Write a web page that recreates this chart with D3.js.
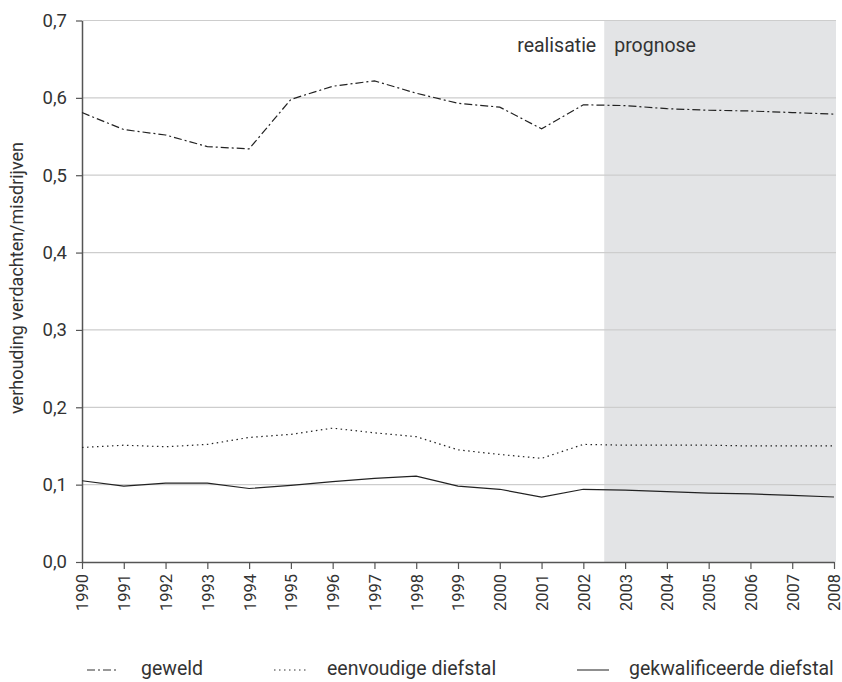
<!DOCTYPE html>
<html><head><meta charset="utf-8">
<script src="https://cdn.jsdelivr.net/npm/d3@7"></script>
<style>body{margin:0;background:#fff;} text{font-family:Roboto,"Liberation Sans",sans-serif;fill:#333;}</style>
</head><body>
<svg id="c" width="842" height="682"></svg>
<script>
const years = d3.range(1990, 2009);
const geweld = [0.581,0.559,0.552,0.537,0.534,0.598,0.615,0.622,0.606,0.593,0.588,0.560,0.591,0.590,0.586,0.584,0.583,0.581,0.579];
const eenvoudig = [0.148,0.151,0.149,0.152,0.161,0.165,0.173,0.167,0.162,0.145,0.139,0.134,0.152,0.151,0.151,0.151,0.150,0.150,0.150];
const gekwal = [0.105,0.098,0.102,0.102,0.095,0.099,0.104,0.108,0.111,0.098,0.094,0.084,0.094,0.093,0.091,0.089,0.088,0.086,0.084];
const yTicks = [0,0.1,0.2,0.3,0.4,0.5,0.6,0.7];
const seriesNames = ["geweld","eenvoudige diefstal","gekwalificeerde diefstal"];
const dashes = ["8,3,2,3","1.5,3.5",null];
const prognoseStart = 2002.5;

const svg = d3.select("#c");
const x = d3.scaleLinear().domain([1990,2008]).range([82,834]);
const y = d3.scaleLinear().domain([0,0.7]).range([562,20.5]);
const xR = 836;

// shaded prognose
svg.append("rect").attr("x", x(prognoseStart)).attr("y", y(0.7))
  .attr("width", xR - x(prognoseStart)).attr("height", y(0)-y(0.7)).attr("fill","#e3e4e6");

// grid
svg.append("g").selectAll("line").data(yTicks.filter(d=>d>0)).join("line")
  .attr("x1", x(1990)).attr("x2", xR).attr("y1", d=>y(d)).attr("y2", d=>y(d))
  .attr("stroke","#cdcdcd").attr("stroke-width",1.2);

// y axis
const fmt = d => d3.format(".1f")(d).replace(".", ",");
const ya = svg.append("g").attr("transform",`translate(${x(1990)},0)`)
  .call(d3.axisLeft(y).tickValues(yTicks).tickFormat(fmt).tickSize(6).tickSizeOuter(0));
ya.select(".domain").attr("stroke","#555").attr("stroke-width",1.5);
ya.selectAll(".tick line").attr("stroke","#555").attr("stroke-width",1.2);
ya.selectAll(".tick text").attr("font-size",18.5).attr("x",-15).attr("fill","#333");

// x axis
const xa = svg.append("g").attr("transform",`translate(0,${y(0)})`)
  .call(d3.axisBottom(x).tickValues(years).tickFormat(d3.format("d")).tickSize(7).tickSizeOuter(0));
xa.select(".domain").attr("stroke","#555").attr("stroke-width",1.5);
xa.selectAll(".tick line").attr("stroke","#555").attr("stroke-width",1.2);
xa.selectAll(".tick text").attr("font-size",16.5).attr("fill","#333")
  .attr("transform","rotate(-90)").attr("text-anchor","end")
  .attr("x",-12).attr("y",0).attr("dy","0.36em");

// y label
svg.append("text").attr("transform","translate(23,278) rotate(-90)")
  .attr("text-anchor","middle").attr("font-size",18).text("verhouding verdachten/misdrijven");

// period labels
svg.append("text").attr("x", x(prognoseStart)-8).attr("y",52).attr("text-anchor","end").attr("font-size",19.5).text("realisatie");
svg.append("text").attr("x", x(prognoseStart)+10).attr("y",52).attr("text-anchor","start").attr("font-size",19.5).text("prognose");

// lines
const line = d3.line().x((d,i)=>x(years[i])).y(d=>y(d));
[geweld, eenvoudig, gekwal].forEach((s,i)=>{
  svg.append("path").datum(s).attr("d", line).attr("fill","none")
    .attr("stroke","#222").attr("stroke-width",1.2)
    .attr("stroke-dasharray", dashes[i]);
});

// legend
const legX = [87, 274, 577];
const legTX = [141, 327, 629];
seriesNames.forEach((n,i)=>{
  svg.append("line").attr("x1",legX[i]).attr("x2",legX[i]+32).attr("y1",670).attr("y2",670)
    .attr("stroke","#333").attr("stroke-width",1.1).attr("stroke-dasharray",dashes[i]);
  svg.append("text").attr("x",legTX[i]).attr("y",675).attr("font-size",19.5).text(n);
});
</script>
</body></html>
